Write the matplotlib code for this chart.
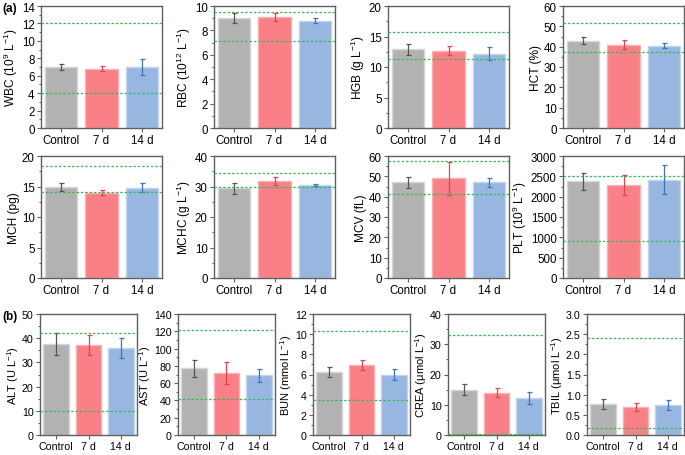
import numpy as np
import matplotlib
matplotlib.use("Agg")
import matplotlib.pyplot as plt
from matplotlib.ticker import MultipleLocator

plt.rcParams["font.family"] = ["Liberation Sans", "DejaVu Sans"]
plt.rcParams["mathtext.fontset"] = "custom"
plt.rcParams["mathtext.rm"] = "Liberation Sans"
plt.rcParams["mathtext.it"] = "Liberation Sans"
plt.rcParams["mathtext.default"] = "regular"

# Grupos
groups = ["Control", "7 d", "14 d"]

# Valores medios, desviaciones y rangos de referencia
wbc = [7.0, 6.8, 7.0];      wbc_err = [0.4, 0.3, 0.9];     wbc_ref = [4.0, 12.0]
rbc = [9.0, 9.1, 8.8];      rbc_err = [0.4, 0.3, 0.2];     rbc_ref = [7.1, 9.5]
hgb = [12.9, 12.7, 12.2];   hgb_err = [0.9, 0.8, 1.1];     hgb_ref = [11.3, 15.7]
hct = [43.0, 41.0, 40.5];   hct_err = [1.8, 2.2, 1.2];     hct_ref = [37.3, 51.5]
mch = [14.9, 14.0, 14.8];   mch_err = [0.6, 0.4, 0.7];     mch_ref = [14.1, 18.3]
mchc = [29.5, 31.8, 30.5];  mchc_err = [1.8, 1.2, 0.3];    mchc_ref = [30.0, 34.4]
mcv = [47.0, 49.0, 47.0];   mcv_err = [2.5, 8.0, 2.3];     mcv_ref = [41.2, 57.3]
plt_v = [2380, 2280, 2420]; plt_err = [210, 250, 360];     plt_ref = [900, 2500]
alt = [37.5, 37.2, 36.0];   alt_err = [4.5, 4.0, 4.0];     alt_ref = [10, 42]
ast = [77, 72, 69];         ast_err = [10, 13, 7.5];       ast_ref = [42, 121]
bun = [6.25, 6.9, 6.0];     bun_err = [0.5, 0.5, 0.5];     bun_ref = [3.5, 10.3]
crea = [15.0, 14.0, 12.2];  crea_err = [1.9, 1.6, 2.0];    crea_ref = [0.2, 33.2]
tbil = [0.77, 0.70, 0.74];  tbil_err = [0.13, 0.10, 0.12]; tbil_ref = [0.18, 2.4]

panels = [
    (wbc, wbc_err, wbc_ref, "WBC (10$^{9}$ L$^{-1}$)", 14, 2, 1),
    (rbc, rbc_err, rbc_ref, "RBC (10$^{12}$ L$^{-1}$)", 10, 2, 1),
    (hgb, hgb_err, hgb_ref, "HGB (g L$^{-1}$)", 20, 5, 2.5),
    (hct, hct_err, hct_ref, "HCT (%)", 60, 10, 5),
    (mch, mch_err, mch_ref, "MCH (pg)", 20, 5, 2.5),
    (mchc, mchc_err, mchc_ref, "MCHC (g L$^{-1}$)", 40, 10, 5),
    (mcv, mcv_err, mcv_ref, "MCV (fL)", 60, 10, 5),
    (plt_v, plt_err, plt_ref, "PLT (10$^{9}$ L$^{-1}$)", 3000, 500, 250),
    (alt, alt_err, alt_ref, "ALT (U L$^{-1}$)", 50, 10, 5),
    (ast, ast_err, ast_ref, "AST (U L$^{-1}$)", 140, 20, 10),
    (bun, bun_err, bun_ref, "BUN (mmol L$^{-1}$)", 12, 2, 1),
    (crea, crea_err, crea_ref, "CREA (μmol L$^{-1}$)", 40, 10, 5),
    (tbil, tbil_err, tbil_ref, "TBIL (μmol L$^{-1}$)", 3.0, 0.5, 0.25),
]

bar_colors = ["#b2b2b2", "#fa8087", "#97b7e0"]
edge_colors = ["#d6d6d6", "#fcb0b4", "#c2d5ee"]
err_colors = ["#555555", "#e0444f", "#3f74bd"]
spine_col = "#606060"

W, H = 685, 456
fig = plt.figure(figsize=(W / 100, H / 100), dpi=100)

# Posiciones en píxeles (izquierda, arriba, ancho, alto, tamaño de letra)
boxes = []
for top in (7, 157):
    for left in (41, 214, 388, 563):
        boxes.append((left, top, 121, 122, 8.3))
for left in (40, 178, 313, 448, 587):
    boxes.append((left, 315, 97, 121, 7.7))

x = np.arange(len(groups))
for (vals, errs, ref, label, ymax, major, minor), (l, t, w, h, fs) in zip(panels, boxes):
    ax = fig.add_axes([l / W, 1 - (t + h) / H, w / W, h / H])
    ax.bar(x, vals, width=0.8, color=bar_colors, edgecolor=edge_colors, linewidth=1.0, zorder=2)
    for i in range(3):
        ax.errorbar(x[i], vals[i], yerr=errs[i], fmt="none", ecolor=err_colors[i],
                    elinewidth=0.9, capsize=1.8, capthick=0.9, zorder=3)
    for r in ref:
        ax.axhline(r, color="#33bb55", linewidth=0.9, linestyle=(0, (2, 1.5)), zorder=4)
    ax.set_xlim(-0.5, 2.5)
    ax.set_ylim(0, ymax)
    ax.yaxis.set_major_locator(MultipleLocator(major))
    ax.yaxis.set_minor_locator(MultipleLocator(minor))
    ax.set_xticks(x)
    ax.set_xticklabels(groups)
    ax.set_ylabel(label, fontsize=fs + 0.3, labelpad=1)
    ax.tick_params(axis="both", labelsize=fs, direction="out", color=spine_col,
                   length=3, width=0.8, pad=1.5)
    ax.tick_params(axis="y", which="minor", length=1.8, width=0.8, color=spine_col)
    for s in ax.spines.values():
        s.set_color(spine_col)
        s.set_linewidth(1.0)

fig.text(2 / W, 1 - 12 / H, "(a)", fontsize=8.5, fontweight="bold")
fig.text(2 / W, 1 - 320 / H, "(b)", fontsize=8.5, fontweight="bold")

fig.savefig("out.png", dpi=100)
